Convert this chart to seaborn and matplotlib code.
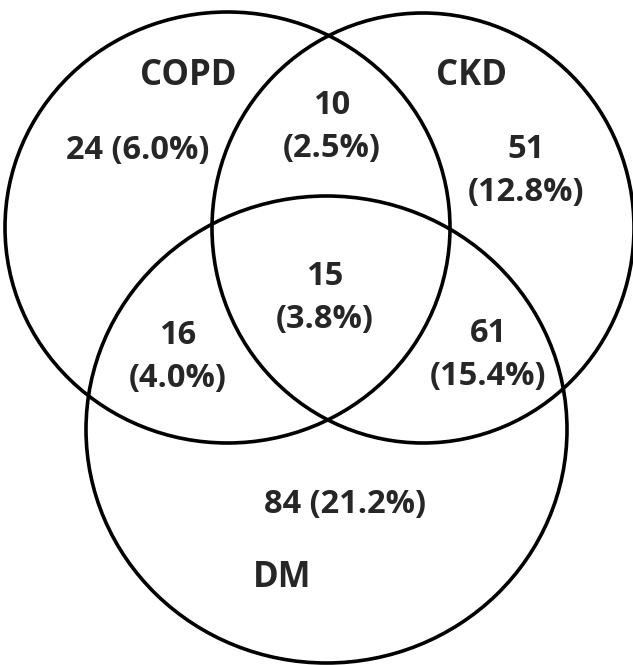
import matplotlib
matplotlib.use("Agg")
import matplotlib.pyplot as plt
from matplotlib.patches import Ellipse
import seaborn as sns

# Data
sets = ["COPD", "CKD", "DM"]
regions = ["COPD only", "COPD&CKD", "CKD only", "All three", "COPD&DM", "CKD&DM", "DM only"]
counts = [24, 10, 51, 15, 16, 61, 84]
percents = [6.0, 2.5, 12.8, 3.8, 4.0, 15.4, 21.2]

sns.set_theme(style="white")
plt.rcParams['font.family'] = ['Open Sans', 'DejaVu Sans']

fig = plt.figure(figsize=(6.33, 6.65), dpi=100)
ax = fig.add_axes([0, 0, 1, 1])
ax.set_xlim(0, 633)
ax.set_ylim(665, 0)
ax.axis("off")

# circle geometry (pixel layout)
circles = {
    "COPD": dict(c=(227.5, 227.5), w=445, h=431),
    "CKD": dict(c=(423, 228), w=422, h=430),
    "DM": dict(c=(326.5, 429.5), w=481, h=467),
}
for s in sets:
    g = circles[s]
    ax.add_patch(Ellipse(g["c"], g["w"], g["h"], fill=False, lw=2.6, ec="black"))

# label positions
set_pos = {"COPD": (188, 76), "CKD": (471, 76), "DM": (282, 578)}
for s in sets:
    ax.text(*set_pos[s], s, ha="center", va="center", fontsize=25, fontweight="bold")

region_layout = {
    "COPD only": ((138, 150), False),
    "COPD&CKD": ((332, 127), True),
    "CKD only": ((526, 171), True),
    "All three": ((325, 298), True),
    "COPD&DM": ((178, 357), True),
    "CKD&DM": ((488, 355), True),
    "DM only": ((345, 505), False),
}
for r, n, p in zip(regions, counts, percents):
    (x, y), two_lines = region_layout[r]
    txt = f"{n}\n({p:.1f}%)" if two_lines else f"{n} ({p:.1f}%)"
    ax.text(x, y, txt, ha="center", va="center", fontsize=23.5, fontweight="bold",
            linespacing=1.4)

fig.savefig("out.png", dpi=100)
